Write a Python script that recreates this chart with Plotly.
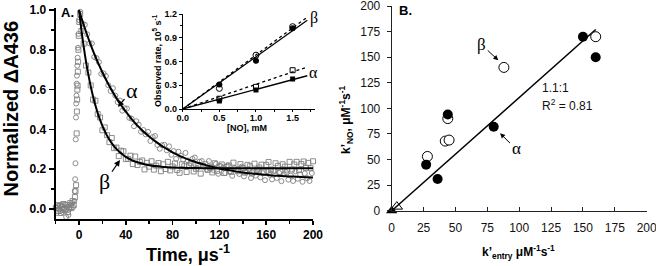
import plotly.graph_objects as go

# ---------------- Panel A: normalized transient absorbance ----------------
alpha_base_t = [-20, -19, -18, -17, -16, -15, -14, -13, -12, -11, -10, -9, -8, -7, -6, -5]
alpha_base_y = [0.01, -0.02, 0.015, 0.0, -0.01, 0.02, -0.015, 0.005, 0.025, -0.04, 0.01, -0.03, 0.0, 0.02, 0.03, 0.01]
alpha_rise_t = [-4, -3.6, -3.3, -3.0, -2.8, -2.6, -2.4, -2.2, -2.0, -1.8, -1.5, -1.2, -0.8, -0.4, 0.0]
alpha_rise_y = [0.04, 0.09, 0.15, 0.23, 0.35, 0.46, 0.53, 0.57, 0.63, 0.67, 0.72, 0.76, 0.81, 0.88, 0.95]
alpha_decay_t = list(range(1, 200, 2))
alpha_decay_y = [
    0.991, 0.931, 0.926, 0.878, 0.832, 0.832, 0.764, 0.758, 0.738, 0.679,
    0.682, 0.668, 0.622, 0.593, 0.607, 0.570, 0.537, 0.545, 0.494, 0.506,
    0.505, 0.458, 0.454, 0.416, 0.441, 0.424, 0.388, 0.397, 0.375, 0.388,
    0.342, 0.362, 0.367, 0.322, 0.303, 0.321, 0.323, 0.295, 0.315, 0.273,
    0.291, 0.252, 0.288, 0.268, 0.248, 0.282, 0.244, 0.228, 0.252, 0.259,
    0.207, 0.238, 0.241, 0.214, 0.199, 0.241, 0.214, 0.196, 0.227, 0.177,
    0.216, 0.206, 0.181, 0.219, 0.190, 0.167, 0.207, 0.198, 0.176, 0.213,
    0.164, 0.186, 0.201, 0.156, 0.190, 0.168, 0.201, 0.159, 0.180, 0.145,
    0.189, 0.172, 0.149, 0.192, 0.156, 0.182, 0.140, 0.174, 0.185, 0.148,
    0.168, 0.141, 0.189, 0.152, 0.174, 0.137, 0.179, 0.155, 0.141, 0.181]

beta_base_t = [-19.5, -18.5, -17.5, -16.5, -15.5, -14.5, -13.5, -12.5, -11.5, -10.5, -9.5, -8.5, -7.5, -6.5, -5.5, -4.5]
beta_base_y = [0.005, 0.02, -0.01, 0.015, -0.02, 0.01, 0.025, -0.005, 0.0, 0.02, -0.015, 0.01, 0.03, 0.005, 0.04, 0.02]
beta_rise_t = [-3.5, -3.0, -2.5, -2.0, -1.8, -1.6, -1.4, -1.2, -1.0, -0.8, -0.5, -0.2, 0.3, 1.0]
beta_rise_y = [0.06, 0.09, 0.12, 0.38, 0.49, 0.55, 0.60, 0.62, 0.69, 0.74, 0.80, 0.87, 0.94, 0.98]
beta_decay_t = list(range(2, 201, 2))
beta_decay_y = [
    0.894, 0.831, 0.721, 0.686, 0.621, 0.550, 0.544, 0.477, 0.460, 0.396,
    0.410, 0.371, 0.336, 0.357, 0.306, 0.309, 0.266, 0.293, 0.290, 0.251,
    0.252, 0.268, 0.226, 0.264, 0.221, 0.237, 0.244, 0.199, 0.232, 0.213,
    0.240, 0.198, 0.218, 0.231, 0.190, 0.225, 0.201, 0.237, 0.194, 0.214,
    0.229, 0.196, 0.182, 0.225, 0.215, 0.186, 0.218, 0.230, 0.189, 0.202,
    0.221, 0.178, 0.216, 0.225, 0.197, 0.208, 0.184, 0.230, 0.192, 0.214,
    0.224, 0.181, 0.211, 0.219, 0.187, 0.233, 0.199, 0.190, 0.226, 0.206,
    0.183, 0.222, 0.215, 0.179, 0.228, 0.196, 0.209, 0.223, 0.185, 0.222,
    0.236, 0.199, 0.193, 0.230, 0.217, 0.187, 0.225, 0.213, 0.198, 0.237,
    0.199, 0.224, 0.237, 0.196, 0.226, 0.239, 0.207, 0.232, 0.205, 0.240]

alpha_fit_t = [0, 5, 10, 15, 20, 25, 30, 35, 40, 45, 50, 55, 60, 65, 70, 75, 80, 85, 90, 95,
               100, 110, 120, 130, 140, 150, 160, 170, 180, 190, 200]
alpha_fit_y = [1.0, 0.908, 0.825, 0.752, 0.687, 0.628, 0.576, 0.530, 0.489, 0.452, 0.419, 0.390,
               0.364, 0.341, 0.320, 0.302, 0.285, 0.270, 0.257, 0.246, 0.235, 0.218, 0.204, 0.193,
               0.184, 0.177, 0.172, 0.167, 0.164, 0.161, 0.159]
beta_fit_t = [0, 2, 4, 6, 8, 10, 12, 14, 16, 18, 20, 25, 30, 35, 40, 45, 50, 60, 70, 80, 100, 120, 150, 200]
beta_fit_y = [1.0, 0.902, 0.816, 0.741, 0.675, 0.617, 0.566, 0.521, 0.482, 0.448, 0.418, 0.358,
              0.315, 0.285, 0.262, 0.246, 0.235, 0.220, 0.213, 0.209, 0.206, 0.205, 0.205, 0.205]

# ---------------- Inset: observed rate vs [NO] ----------------
no_conc = [0.5, 1.0, 1.5]
beta_rate_filled = [0.31, 0.61, 1.02]
beta_rate_open = [0.26, 0.68, 1.04]
alpha_rate_filled = [0.10, 0.24, 0.38]
alpha_rate_open = [0.13, 0.28, 0.49]
inset_fit_x = [0.0, 1.7]
beta_fit_solid = [0.0, 1.12]
beta_fit_dotted = [0.0, 1.16]
alpha_fit_solid = [0.0, 0.42]
alpha_fit_dotted = [0.0, 0.53]

# ---------------- Panel B: k'NO vs k'entry ----------------
alpha_kentry = [150, 160, 80, 44, 27, 36]
alpha_kno = [170, 150, 82, 94, 45, 31]
beta_kentry = [160, 88, 44, 42, 45, 28]
beta_kno = [170, 140, 90, 68, 69, 53]
tri_filled_x = [0]
tri_filled_y = [0]
tri_open_x = [4]
tri_open_y = [4]
b_fit_x = [0, 160]
b_fit_y = [0, 177]

SANS = "Arial, Liberation Sans, Helvetica, sans-serif"
SERIF = "Times New Roman, Liberation Serif, serif"
GRAY = "#808080"

fig = go.Figure()

# Panel A markers
fig.add_trace(go.Scatter(
    x=alpha_base_t + alpha_rise_t + alpha_decay_t,
    y=alpha_base_y + alpha_rise_y + alpha_decay_y,
    mode="markers", xaxis="x", yaxis="y",
    marker=dict(symbol="circle-open", size=5, color=GRAY, line=dict(width=0.9, color=GRAY)),
    showlegend=False, cliponaxis=False))
fig.add_trace(go.Scatter(
    x=beta_base_t + beta_rise_t + beta_decay_t,
    y=beta_base_y + beta_rise_y + beta_decay_y,
    mode="markers", xaxis="x", yaxis="y",
    marker=dict(symbol="square-open", size=5, color=GRAY, line=dict(width=0.9, color=GRAY)),
    showlegend=False, cliponaxis=False))
fig.add_trace(go.Scatter(x=alpha_fit_t, y=alpha_fit_y, mode="lines", xaxis="x", yaxis="y",
                         line=dict(color="black", width=2, shape="spline"), showlegend=False))
fig.add_trace(go.Scatter(x=beta_fit_t, y=beta_fit_y, mode="lines", xaxis="x", yaxis="y",
                         line=dict(color="black", width=2, shape="spline"), showlegend=False))

# Inset
fig.add_trace(go.Scatter(x=inset_fit_x, y=beta_fit_solid, mode="lines", xaxis="x2", yaxis="y2",
                         line=dict(color="black", width=1.3), showlegend=False))
fig.add_trace(go.Scatter(x=inset_fit_x, y=beta_fit_dotted, mode="lines", xaxis="x2", yaxis="y2",
                         line=dict(color="black", width=1.3, dash="dot"), showlegend=False))
fig.add_trace(go.Scatter(x=inset_fit_x, y=alpha_fit_solid, mode="lines", xaxis="x2", yaxis="y2",
                         line=dict(color="black", width=1.3), showlegend=False))
fig.add_trace(go.Scatter(x=inset_fit_x, y=alpha_fit_dotted, mode="lines", xaxis="x2", yaxis="y2",
                         line=dict(color="black", width=1.3, dash="dot"), showlegend=False))
fig.add_trace(go.Scatter(x=no_conc, y=beta_rate_filled, mode="markers", xaxis="x2", yaxis="y2",
                         marker=dict(symbol="circle", size=6, color="black"), showlegend=False))
fig.add_trace(go.Scatter(x=no_conc, y=beta_rate_open, mode="markers", xaxis="x2", yaxis="y2",
                         marker=dict(symbol="circle-open", size=6, color="black", line=dict(width=1)),
                         showlegend=False))
fig.add_trace(go.Scatter(x=no_conc, y=alpha_rate_filled, mode="markers", xaxis="x2", yaxis="y2",
                         marker=dict(symbol="square", size=5, color="black"), showlegend=False))
fig.add_trace(go.Scatter(x=no_conc, y=alpha_rate_open, mode="markers", xaxis="x2", yaxis="y2",
                         marker=dict(symbol="square-open", size=5, color="black", line=dict(width=1)),
                         showlegend=False))

# Panel B
fig.add_trace(go.Scatter(x=b_fit_x, y=b_fit_y, mode="lines", xaxis="x3", yaxis="y3",
                         line=dict(color="black", width=1.5), showlegend=False))
fig.add_trace(go.Scatter(x=beta_kentry, y=beta_kno, mode="markers", xaxis="x3", yaxis="y3",
                         marker=dict(symbol="circle", size=10, color="white", line=dict(width=1, color="black")),
                         showlegend=False, cliponaxis=False))
fig.add_trace(go.Scatter(x=alpha_kentry, y=alpha_kno, mode="markers", xaxis="x3", yaxis="y3",
                         marker=dict(symbol="circle", size=10, color="black"),
                         showlegend=False, cliponaxis=False))
fig.add_trace(go.Scatter(x=tri_open_x, y=tri_open_y, mode="markers", xaxis="x3", yaxis="y3",
                         marker=dict(symbol="triangle-up-open", size=10, color="black", line=dict(width=1)),
                         showlegend=False, cliponaxis=False))
fig.add_trace(go.Scatter(x=tri_filled_x, y=tri_filled_y, mode="markers", xaxis="x3", yaxis="y3",
                         marker=dict(symbol="triangle-up", size=10, color="black"),
                         showlegend=False, cliponaxis=False))

W, H = 656, 266
def px_x(p):
    return p / W
def px_y(p):
    return 1 - p / H

boldtick = dict(family=SANS, size=12, color="black", weight="bold")

fig.update_layout(
    width=W, height=H, margin=dict(l=0, r=0, t=0, b=0, autoexpand=False),
    paper_bgcolor="white", plot_bgcolor="rgba(0,0,0,0)",
    showlegend=False,
    xaxis=dict(domain=[px_x(55.6), px_x(313)], range=[-20, 200], anchor="y", automargin=False,
               showline=True, linecolor="black", linewidth=2, ticks="outside", ticklen=4,
               tickwidth=1.5, tickcolor="black", tickvals=[0, 40, 80, 120, 160, 200],
               minor=dict(ticks="outside", ticklen=3, tickwidth=1.5, tickcolor="black", dtick=20, tick0=0),
               tickfont=boldtick, showgrid=False, zeroline=False, ticklabeloverflow="allow"),
    yaxis=dict(domain=[px_y(219), px_y(8)], range=[-0.05, 1.01], anchor="x", automargin=False,
               showline=True, linecolor="black", linewidth=2, ticks="outside", ticklen=5,
               tickwidth=1.5, tickcolor="black", tickvals=[0, 0.2, 0.4, 0.6, 0.8, 1.0], tickformat=".1f",
               minor=dict(ticks="outside", ticklen=3, tickwidth=1.5, tickcolor="black", dtick=0.1, tick0=0),
               tickfont=boldtick, showgrid=False, zeroline=False, ticklabeloverflow="allow"),
    xaxis2=dict(domain=[px_x(182.7), px_x(314.6)], range=[0, 1.8], anchor="y2", automargin=False,
                showline=True, linecolor="black", linewidth=1, ticks="outside", ticklen=2,
                tickcolor="black", tickvals=[0, 0.5, 1.0, 1.5], tickformat=".1f",
                minor=dict(ticks="outside", ticklen=2, tickcolor="black", dtick=0.25, tick0=0),
                tickfont=dict(family=SANS, size=9, color="black", weight="bold"),
                ticklabelstandoff=-2,
                showgrid=False, zeroline=False, ticklabeloverflow="allow"),
    yaxis2=dict(domain=[px_y(109), px_y(14)], range=[0, 1.2], anchor="x2", automargin=False,
                showline=True, linecolor="black", linewidth=1, ticks="outside", ticklen=3,
                tickcolor="black", tickvals=[0, 0.3, 0.6, 0.9, 1.2], tickformat=".1f",
                minor=dict(ticks="outside", ticklen=2, tickcolor="black", dtick=0.15, tick0=0),
                tickfont=dict(family=SANS, size=9, color="black", weight="bold"),
                showgrid=False, zeroline=False, ticklabeloverflow="allow"),
    xaxis3=dict(domain=[px_x(391.7), px_x(646.7)], range=[0, 200], anchor="y3", automargin=False,
                showline=True, linecolor="#222", linewidth=1, ticks="inside", ticklen=4,
                tickcolor="#222", tickvals=[0, 25, 50, 75, 100, 125, 150, 175, 200],
                tickfont=dict(family=SANS, size=12, color="#111"), ticklabelstandoff=6,
                showgrid=False, zeroline=False, ticklabeloverflow="allow"),
    yaxis3=dict(domain=[px_y(210.7), px_y(6)], range=[0, 200], anchor="x3", automargin=False,
                showline=True, linecolor="#222", linewidth=1, ticks="outside", ticklen=4,
                tickcolor="#222", tickvals=[0, 25, 50, 75, 100, 125, 150, 175, 200],
                tickfont=dict(family=SANS, size=12, color="#111"), ticklabelstandoff=4,
                showgrid=False, zeroline=False, ticklabeloverflow="allow"),
)

def paper_text(text, x, y, size, bold=True, angle=0, xanchor="center", family=SANS):
    return dict(text=text, x=px_x(x), y=px_y(y), xref="paper", yref="paper",
                xanchor=xanchor, yanchor="middle", textangle=angle, showarrow=False,
                font=dict(family=family, size=size, color="black", weight="bold" if bold else "normal"))

ann = []
# Panel A titles
ann.append(paper_text("Normalized ΔA436", 10, 108.5, 20, angle=-90))
ann.append(paper_text("Time, μs<sup>-1</sup>", 188, 253, 18))
ann.append(paper_text("A.", 59, 12, 13, xanchor="left"))
# Panel A arrows
ann.append(dict(text="α", x=33.3, y=0.513, ax=45.3, ay=0.598, xref="x", yref="y", axref="x", ayref="y",
                showarrow=True, arrowhead=2, arrowsize=1, arrowwidth=1.2, arrowcolor="black",
                font=dict(family=SERIF, size=22, color="black")))
ann.append(dict(text="β", x=35, y=0.246, ax=22.2, ay=0.136, xref="x", yref="y", axref="x", ayref="y",
                showarrow=True, arrowhead=2, arrowsize=1, arrowwidth=1.2, arrowcolor="black",
                font=dict(family=SERIF, size=22, color="black")))
# Inset titles and labels
ann.append(paper_text("Observed rate, 10<sup>5</sup> s<sup>-1</sup>", 157, 61, 9, angle=-90))
ann.append(paper_text("[NO], mM", 247, 128, 9))
ann.append(dict(text="β", x=1.79, y=1.15, xref="x2", yref="y2", showarrow=False,
                xanchor="center", yanchor="middle", font=dict(family=SERIF, size=16, color="black")))
ann.append(dict(text="α", x=1.79, y=0.46, xref="x2", yref="y2", showarrow=False,
                xanchor="center", yanchor="middle", font=dict(family=SERIF, size=16, color="black")))
# Panel B titles and labels
ann.append(paper_text("k’<sub>entry</sub> μM<sup>-1</sup>s<sup>-1</sup>", 518, 252, 12))
ann.append(paper_text("k’<sub>NO</sub>, μM<sup>-1</sup>s<sup>-1</sup>", 346, 120, 12, angle=-90))
ann.append(paper_text("B.", 397, 11, 13, xanchor="left"))
ann.append(dict(text="β", x=83.6, y=147, ax=70.6, ay=162, xref="x3", yref="y3", axref="x3", ayref="y3",
                showarrow=True, arrowhead=2, arrowsize=1, arrowwidth=1, arrowcolor="black",
                font=dict(family=SERIF, size=17, color="black")))
ann.append(dict(text="α", x=85, y=75.6, ax=97.5, ay=60.3, xref="x3", yref="y3", axref="x3", ayref="y3",
                showarrow=True, arrowhead=2, arrowsize=1, arrowwidth=1, arrowcolor="black",
                font=dict(family=SERIF, size=17, color="black")))
ann.append(dict(text="1.1:1", x=116, y=120, xref="x3", yref="y3", xanchor="left", yanchor="middle",
                showarrow=False, font=dict(family=SANS, size=12, color="#111")))
ann.append(dict(text="R<sup>2</sup> = 0.81", x=116, y=103, xref="x3", yref="y3", xanchor="left",
                yanchor="middle", showarrow=False, font=dict(family=SANS, size=12, color="#111")))
fig.update_layout(annotations=ann)

fig.write_html("out.html",
               config={"displayModeBar": False, "staticPlot": True},
               post_script="document.body.style.margin='0';document.body.style.padding='0';"
                           "document.body.style.overflow='hidden';")
